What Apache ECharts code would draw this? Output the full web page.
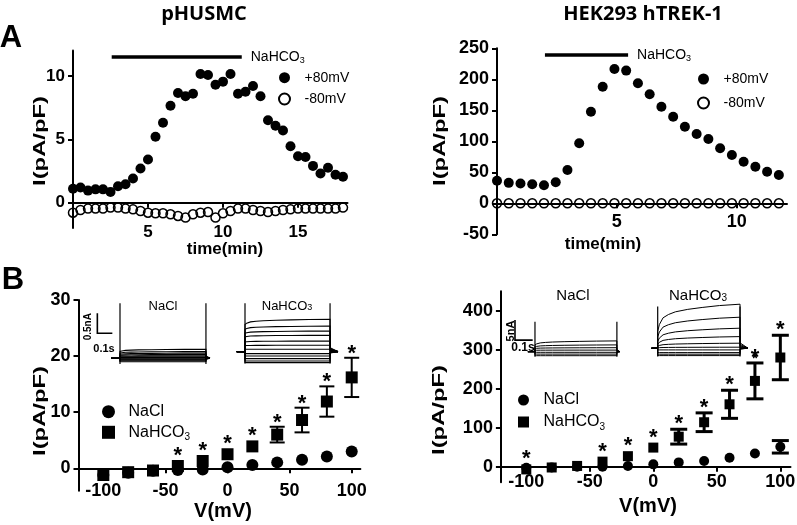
<!DOCTYPE html>
<html>
<head>
<meta charset="utf-8">
<script src="https://cdn.jsdelivr.net/npm/echarts@6/dist/echarts.min.js"></script>
<style>
html, body { margin: 0; padding: 0; background: #fff; }
#main { width: 797px; height: 525px; }
</style>
</head>
<body>
<div id="main"></div>
<script>
var FF = 'Arial, "Liberation Sans", sans-serif';

// ---------- A: time courses (min, pA/pF)
var timeA1 = [0, 0.5, 1, 1.5, 2, 2.5, 3, 3.5, 4, 4.5, 5, 5.5, 6, 6.5, 7, 7.5, 8, 8.5, 9, 9.5,
    10, 10.5, 11, 11.5, 12, 12.5, 13, 13.5, 14, 14.5, 15, 15.5, 16, 16.5, 17, 17.5, 18];
var a1Pos80 = [1.1, 1.2, 0.95, 1.05, 1.05, 0.85, 1.3, 1.45, 1.9, 2.7, 3.4, 5.2, 6.3, 7.65, 8.65, 8.4, 8.6, 10.15, 10.08, 9.3,
    9.55, 10.15, 8.6, 8.75, 9.2, 8.4, 6.5, 6.07, 5.7, 4.45, 3.66, 3.6, 2.9, 2.3, 2.75, 2.2, 2.04];
var a1Neg80 = [-0.79, -0.58, -0.47, -0.47, -0.47, -0.39, -0.39, -0.47, -0.53, -0.66, -0.79, -0.84, -0.84, -0.92, -1.05, -1.18, -0.92, -0.79, -0.74, -1.18,
    -0.84, -0.66, -0.47, -0.47, -0.58, -0.66, -0.74, -0.66, -0.58, -0.53, -0.47, -0.47, -0.47, -0.47, -0.47, -0.47, -0.39];
var timeA2 = [0, 0.49, 0.98, 1.47, 1.96, 2.45, 2.94, 3.43, 3.92, 4.41, 4.9, 5.39, 5.88, 6.37, 6.86, 7.35, 7.84, 8.33, 8.82, 9.31,
    9.8, 10.29, 10.78, 11.27, 11.76];
var a2Pos80 = [36.5, 33, 32, 30.6, 29, 34, 53.7, 96.8, 147.8, 188, 216.6, 214, 193.5, 176, 155.8, 139.7, 123.5, 111.8, 103.7, 88.7,
    77.9, 67, 59, 51, 45.6];
var a2Neg80 = [0, 0, 0, 0, 0, 0, 0, 0, 0, 0, 0, 0, 0, 0, 0, 0, 0, 0, 0, 0, 0, 0, 0, 0, 0];
// NaHCO3 application: start, end (min), drawn at a fixed height
var bathA1 = [2.58, 11.25], bathA1Y = 11.5;
var bathA2 = [2.0, 5.47], bathA2Y = 239;

// ---------- B: I-V curves (mV, pA/pF)
var voltB = [-100, -80, -60, -40, -20, 0, 20, 40, 60, 80, 100];
var b1NaCl = [-1.2, -0.8, -0.45, -0.3, -0.2, 0.2, 0.6, 1.05, 1.5, 2.1, 3.0];
var b1NaClErr = [0, 0, 0, 0, 0, 0, 0, 0, 0, 0, 0];
var b1Hco3 = [-1.2, -0.7, -0.4, 0.4, 1.3, 2.5, 3.9, 6.0, 8.6, 11.9, 16.2];
var b1Hco3Err = [0, 0, 0, 0, 0, 0, 0, 1.4, 2.2, 2.7, 3.5];
var b1Star = [0, 0, 0, 1, 1, 1, 1, 1, 1, 1, 1];
var b2NaCl = [-3, -2, 0, 0, 2, 6, 11, 14.5, 23, 34, 51];
var b2NaClErr = [0, 0, 0, 0, 0, 0, 0, 0, 0, 0, 16];
var b2Hco3 = [-7, -2, 2, 13, 27, 49, 77, 114, 160, 220, 280];
var b2Hco3Err = [0, 0, 0, 0, 0, 0, 19, 24, 36, 46, 57];
var b2Star = [1, 0, 0, 1, 1, 1, 1, 1, 1, 1, 1];

// ---------- inset current traces (nA from holding): level at step start and at step end
var kinT = [0, 0.02, 0.065, 0.13, 0.215, 0.365, 0.54, 0.75, 1];   // fraction of step
var kinF = [0, 0.25, 0.5, 0.62, 0.72, 0.81, 0.88, 0.95, 1];       // fraction of change
var blNaClStart = [0.17, 0.13, 0.1, 0.075, 0.05, 0.03, 0.015, 0, -0.02, -0.04, -0.06, -0.085];
var blNaClEnd   = [0.225, 0.17, 0.13, 0.095, 0.065, 0.04, 0.02, 0, -0.02, -0.04, -0.06, -0.085];
var blHcoStart  = [0.68, 0.56, 0.46, 0.37, 0.24, 0.15, 0.06, -0.05, -0.11, -0.175, -0.235, -0.275];
var blHcoEnd    = [0.81, 0.64, 0.515, 0.41, 0.265, 0.16, 0.06, -0.05, -0.11, -0.175, -0.235, -0.275];
var brNaClStart = [1.7, 1.2, 0.8, 0.35, -0.15, -0.6, -1.0];
var brNaClEnd   = [2.7, 1.7, 1.0, 0.4, -0.15, -0.6, -1.0];
var brHcoStart  = [4.2, 2.8, 1.7, 1.0, 0.5, 0.1, -0.43, -1.1, -1.5, -1.85];
var brHcoEnd    = [11, 7.75, 5, 2.9, 1.25, 0.25, -0.43, -1.1, -1.5, -1.85];

function pairs(xs, ys) { return xs.map(function (x, i) { return [x, ys[i]]; }); }
function triples(xs, ys, es) { return xs.map(function (x, i) { return [x, ys[i], es[i]]; }); }

var black = '#000';
var sub = { s: { fontSize: 9, lineHeight: 9, verticalAlign: 'bottom' } };
var subB = { s: { fontSize: 10, lineHeight: 10, verticalAlign: 'bottom' } };
var squareIcon = 'path://M0,0H10V10H0Z';

function mainX(grid, min, max, ticks, margin, fs) {
    return {
        gridIndex: grid, type: 'value', min: min, max: max,
        axisLine: { onZero: true, lineStyle: { color: black, width: 2 } },
        axisTick: { customValues: ticks, length: 5, lineStyle: { color: black, width: 2 } },
        axisLabel: { customValues: ticks, margin: margin, color: black, fontFamily: FF, fontWeight: 'bold', fontSize: fs },
        splitLine: { show: false }
    };
}
function mainY(grid, min, max, ticks, fs, interval) {
    var ax = {
        gridIndex: grid, type: 'value', min: min, max: max,
        axisLine: { onZero: false, lineStyle: { color: black, width: 2 } },
        axisTick: { length: 5, lineStyle: { color: black, width: 2 } },
        axisLabel: { margin: 8, color: black, fontFamily: FF, fontWeight: 'bold', fontSize: fs },
        splitLine: { show: false }
    };
    if (interval) { ax.interval = interval; }
    else { ax.axisTick.customValues = ticks; ax.axisLabel.customValues = ticks; }
    return ax;
}
function hidden(grid, min, max) {
    return { gridIndex: grid, type: 'value', min: min, max: max, show: false, splitLine: { show: false } };
}

// inset trace layouts (seconds / nA)
var insets = [
    { grid: 4, start: blNaClStart, end: blNaClEnd, tEnd: 0.573, x0: -0.06, x1: 0.60, y0: -0.15, y1: 1.4, tr: [-0.14, 1.375], tail: 0.25, lw: 1.1 },
    { grid: 5, start: blHcoStart, end: blHcoEnd, tEnd: 0.567, x0: -0.055, x1: 0.62, y0: -0.31, y1: 1.2175, tr: [-0.3, 1.21], tail: 0.12, lw: 1.1 },
    { grid: 6, start: brNaClStart, end: brNaClEnd, tEnd: 0.463, x0: -0.04, x1: 0.48, y0: -1.25, y1: 7.5, tr: [-1.25, 7.5], tail: 0.2, lw: 1 },
    { grid: 7, start: brHcoStart, end: brHcoEnd, tEnd: 0.465, x0: -0.035, x1: 0.51, y0: -2.2, y1: 11.05, tr: [-2.1, 10.4], tail: 0.12, lw: 1 }
];
var insetGrids = [
    { left: 111, top: 302.3, width: 99, height: 62 },
    { left: 236.75, top: 303, width: 101.25, height: 61 },
    { left: 527.9, top: 321.7, width: 92, height: 35 },
    { left: 651.5, top: 304, width: 96.5, height: 53 }
];
// scale bars: [x origin, y origin, 0.1 s, nA]
var scaleBars = [
    { grid: 4, bar: [-0.151, 0.625, 0.1, 0.5] },
    { grid: 6, bar: [-0.113, 2.9, 0.1, 5] }
];

var grids = [
    { left: 73, top: 50.6, width: 274.5, height: 177.4 },
    { left: 497, top: 48.3, width: 290, height: 186 },
    { left: 78.5, top: 300, width: 281.9, height: 190.7 },
    { left: 500.9, top: 291.2, width: 289.6, height: 191.1 }
].concat(insetGrids).map(function (g) { g.outerBoundsMode = 'none'; g.containLabel = false; return g; });

var xAxes = [
    mainX(0, 0, 18.3, [5, 10, 15], -4, 17),
    mainX(1, 0, 12.1, [5, 10], -21, 18),
    mainX(2, -120, 107, [-100, -50, 0, 50, 100], -9, 18),
    mainX(3, -120, 108, [-100, -50, 0, 50, 100], -9, 18)
];
var yAxes = [
    mainY(0, -2, 12, [0, 5, 10], 17),
    mainY(1, -50, 250, null, 18, 50),
    mainY(2, -4, 30, [0, 10, 20, 30], 18),
    mainY(3, -40, 450, [0, 100, 200, 300, 400], 18)
];
insets.forEach(function (c) {
    xAxes.push(hidden(c.grid, c.x0, c.x1));
    yAxes.push(hidden(c.grid, c.y0, c.y1));
});

function errRender(capW, lw) {
    return function (params, api) {
        var x = api.value(0), m = api.value(1), e = api.value(2);
        if (!e) return null;
        var hi = api.coord([x, m + e]), lo = api.coord([x, m - e]);
        var st = { stroke: black, lineWidth: lw };
        return { type: 'group', children: [
            { type: 'line', shape: { x1: hi[0], y1: hi[1], x2: lo[0], y2: lo[1] }, style: st },
            { type: 'line', shape: { x1: hi[0] - capW / 2, y1: hi[1], x2: hi[0] + capW / 2, y2: hi[1] }, style: st },
            { type: 'line', shape: { x1: lo[0] - capW / 2, y1: lo[1], x2: lo[0] + capW / 2, y2: lo[1] }, style: st }
        ] };
    };
}
function starRender(flags, half, off) {
    return function (params, api) {
        if (!flags[params.dataIndex]) return null;
        var x = api.value(0), m = api.value(1), e = api.value(2);
        var c = api.coord([x, m]), t = api.coord([x, m + e]);
        var top = Math.min(t[1], c[1] - half);
        return { type: 'text', x: c[0], y: top - off,
            style: { text: '*', font: 'bold 22px ' + FF, fill: black, align: 'center', verticalAlign: 'middle', textAlign: 'center', textVerticalAlign: 'middle' } };
    };
}
function traceRender(c) {
    return function (params, api) {
        var s = api.value(0), e = api.value(1);
        var pts = [[c.x0, 0], [0, 0]];
        for (var k = 0; k < kinT.length; k++) pts.push([kinT[k] * c.tEnd, s + (e - s) * kinF[k]]);
        pts.push([c.tEnd, e * c.tail]);
        pts.push([c.x1, 0]);
        return { type: 'polyline', shape: { points: pts.map(function (p) { return api.coord(p); }) },
            style: { stroke: black, lineWidth: c.lw, fill: null } };
    };
}
function vlineRender(params, api) {
    var a = api.coord([api.value(0), api.value(1)]), b = api.coord([api.value(0), api.value(2)]);
    return { type: 'line', shape: { x1: a[0], y1: a[1], x2: b[0], y2: b[1] }, style: { stroke: black, lineWidth: 1.2 } };
}
function scaleRender(params, api) {
    var x = api.value(0), y = api.value(1), dx = api.value(2), dy = api.value(3);
    var pts = [[x, y + dy], [x, y], [x + dx, y]].map(function (p) { return api.coord(p); });
    return { type: 'polyline', shape: { points: pts }, style: { stroke: black, lineWidth: 1.6, fill: null } };
}

var series = [];
// A panels
[[0, timeA1, a1Pos80, a1Neg80, bathA1, bathA1Y], [1, timeA2, a2Pos80, a2Neg80, bathA2, bathA2Y]].forEach(function (p) {
    var g = p[0];
    series.push({ type: 'scatter', name: '+80mV', xAxisIndex: g, yAxisIndex: g, symbol: 'circle', symbolSize: 10,
        itemStyle: { color: black, opacity: 1 }, data: pairs(p[1], p[2]), z: 3 });
    series.push({ type: 'scatter', name: '-80mV', xAxisIndex: g, yAxisIndex: g, symbol: 'circle', symbolSize: 9,
        itemStyle: { color: 'rgba(0,0,0,0)', borderColor: black, borderWidth: 1.5, opacity: 1 }, data: pairs(p[1], p[3]), z: 3 });
    series.push({ type: 'line', name: 'bath' + g, xAxisIndex: g, yAxisIndex: g, showSymbol: false, symbol: 'none',
        lineStyle: { color: black, width: 3.5 }, data: [[p[4][0], p[5]], [p[4][1], p[5]]],
        endLabel: { show: true, distance: 9, formatter: function () { return 'NaHCO{s|3}'; },
            color: black, fontFamily: FF, fontSize: 14, lineHeight: 16, rich: sub } });
});
// B panels
[[2, b1NaCl, b1NaClErr, b1Hco3, b1Hco3Err, b1Star, 12, 15, 2, 4],
 [3, b2NaCl, b2NaClErr, b2Hco3, b2Hco3Err, b2Star, 10, 17, 3, 5]].forEach(function (p) {
    var g = p[0];
    series.push({ type: 'custom', name: 'errH' + g, xAxisIndex: g, yAxisIndex: g, renderItem: errRender(p[7], p[8]),
        data: triples(voltB, p[3], p[4]), z: 2 });
    series.push({ type: 'custom', name: 'errN' + g, xAxisIndex: g, yAxisIndex: g, renderItem: errRender(p[7], p[8]),
        data: triples(voltB, p[1], p[2]), z: 2 });
    series.push({ type: 'scatter', name: 'NaHCO3', xAxisIndex: g, yAxisIndex: g, symbol: 'rect', symbolSize: p[6],
        itemStyle: { color: black, opacity: 1 }, data: pairs(voltB, p[3]), z: 3 });
    series.push({ type: 'scatter', name: 'NaCl', xAxisIndex: g, yAxisIndex: g, symbol: 'circle', symbolSize: p[6],
        itemStyle: { color: black, opacity: 1 }, data: pairs(voltB, p[1]), z: 4 });
    series.push({ type: 'custom', name: 'star' + g, xAxisIndex: g, yAxisIndex: g, renderItem: starRender(p[5], p[6] / 2, p[9]),
        data: triples(voltB, p[3], p[4]), z: 5 });
});
// insets
insets.forEach(function (c, i) {
    var idx = 4 + i;
    series.push({ type: 'custom', name: 'traces' + i, xAxisIndex: idx, yAxisIndex: idx, renderItem: traceRender(c),
        data: pairs(c.start, c.end), z: 2 });
    series.push({ type: 'custom', name: 'steps' + i, xAxisIndex: idx, yAxisIndex: idx, renderItem: vlineRender,
        data: [[0, c.tr[0], c.tr[1]], [c.tEnd, c.tr[0], c.tr[1]]], z: 2 });
});
scaleBars.forEach(function (s, i) {
    series.push({ type: 'custom', name: 'scale' + i, xAxisIndex: s.grid, yAxisIndex: s.grid, renderItem: scaleRender,
        data: [s.bar], z: 2 });
});

function legend(left, top, gap, names, fs, iconH, lh, rich) {
    return { data: names.map(function (n) { return n === 'NaHCO3' ? { name: n, icon: squareIcon } : { name: n }; }),
        left: left, top: top, orient: 'vertical', padding: 0, itemGap: gap,
        itemWidth: 30, itemHeight: iconH, selectedMode: false,
        formatter: function (n) { return n === 'NaHCO3' ? 'NaHCO{s|3}' : n; },
        textStyle: { color: black, fontFamily: FF, fontSize: fs, lineHeight: lh, rich: rich } };
}

function txt(t, x, y, font, rot, rich, sx) {
    return { type: 'text', x: x, y: y, rotation: rot || 0, scaleX: sx || 1,
        style: { text: t, font: font, fill: black, align: 'center', verticalAlign: 'middle',
            textAlign: 'center', textVerticalAlign: 'middle', rich: rich } };
}
var R = Math.PI / 2;
var subIn = { s: { fontSize: 9, lineHeight: 9, verticalAlign: 'bottom' } };
var subIn2 = { s: { fontSize: 10, lineHeight: 10, verticalAlign: 'bottom' } };
var graphics = [
    txt('A', 11, 38, 'bold 31px ' + FF),
    txt('B', 13, 280, 'bold 31px ' + FF),
    txt('pHUSMC', 204, 14, 'bold 20px "Open Sans"'),
    txt('HEK293 hTREK-1', 643, 14, 'bold 20px "Open Sans"'),
    txt('I(pA/pF)', 40, 141, 'bold 17px ' + FF, R, null, 1.4),
    txt('I(pA/pF)', 440, 141, 'bold 17px ' + FF, R, null, 1.4),
    txt('I(pA/pF)', 40, 411, 'bold 17px ' + FF, R, null, 1.4),
    txt('I(pA/pF)', 439, 410, 'bold 17px ' + FF, R, null, 1.4),
    txt('time(min)', 225, 249, 'bold 17px ' + FF),
    txt('time(min)', 603, 244, 'bold 17px ' + FF),
    txt('V(mV)', 223, 511, 'bold 20px ' + FF),
    txt('V(mV)', 648, 506, 'bold 20px ' + FF),
    txt('NaCl', 163, 306, '13px ' + FF),
    txt('NaHCO{s|3}', 287, 306, '13px ' + FF, 0, subIn),
    txt('NaCl', 573, 296, '15px ' + FF),
    txt('NaHCO{s|3}', 698, 296, '15px ' + FF, 0, subIn2),
    txt('0.5nA', 88, 326.7, 'bold 10px ' + FF, R),
    txt('0.1s', 104, 349, 'bold 11px ' + FF),
    txt('5nA', 510.5, 331, 'bold 11px ' + FF, R),
    txt('0.1s', 523, 347.5, 'bold 12px ' + FF),
    txt('*', 755, 359, 'bold 14px ' + FF)
];

var chart = echarts.init(document.getElementById('main'), null, { renderer: 'canvas' });
chart.setOption({
    animation: false,
    backgroundColor: '#fff',
    grid: grids,
    xAxis: xAxes,
    yAxis: yAxes,
    legend: [
        legend(278, 68.7, 3.3, ['+80mV', '-80mV'], 14, 11, 18, sub),
        legend(697, 70, 6, ['+80mV', '-80mV'], 14, 11, 18, sub),
        legend(102, 401.7, 0.6, ['NaCl', 'NaHCO3'], 16, 13, 20, subB),
        legend(518, 390, 2, ['NaCl', 'NaHCO3'], 16, 11, 20, subB)
    ],
    series: series,
    graphic: graphics
});
</script>
</body>
</html>
